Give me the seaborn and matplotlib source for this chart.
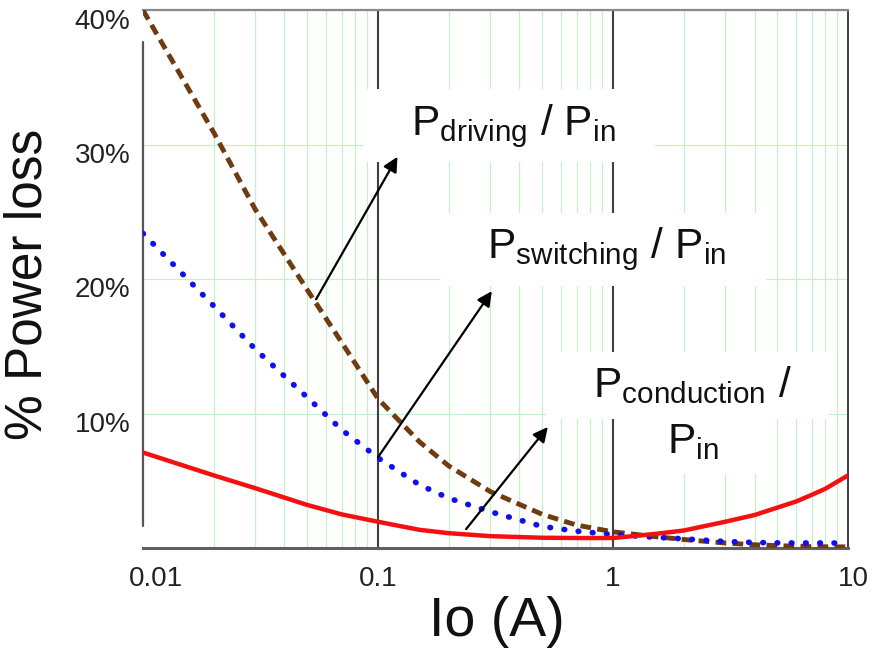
import matplotlib
matplotlib.use("Agg")
import matplotlib.pyplot as plt
import matplotlib.transforms as mtransforms
import seaborn as sns
import pandas as pd
from matplotlib.ticker import FixedLocator, LogLocator, NullFormatter

# load current (A) and loss share (% of input power)
io = [0.01, 0.02, 0.03, 0.05, 0.07, 0.1, 0.15, 0.2, 0.3, 0.5, 0.7, 1, 1.5, 2, 3, 4, 5, 6, 7, 8, 10]
p_driving = [40, 30.9, 25.2, 19.2, 15.3, 11.1, 7.9, 6.1, 4.2, 2.5, 1.7, 1.2, 0.85, 0.63, 0.37,
             0.24, 0.17, 0.13, 0.1, 0.09, 0.08]
p_switching = [23.4, 18.0, 14.8, 11.2, 8.8, 6.7, 4.7, 3.7, 2.7, 1.6, 1.25, 1.0, 0.8, 0.68, 0.48,
               0.41, 0.38, 0.37, 0.37, 0.37, 0.37]
p_conduction = [7.1, 5.4, 4.45, 3.2, 2.5, 1.95, 1.35, 1.1, 0.88, 0.76, 0.74, 0.74, 1.04, 1.3, 1.95,
                2.45, 3.0, 3.45, 3.95, 4.4, 5.4]

y_ticks = [10, 20, 30, 40]
y_tick_labels = ["10%", "20%", "30%", "40%"]
x_ticks = [0.01, 0.1, 1, 10]
x_tick_labels = ["0.01", "0.1", "1", "10"]

# text boxes (label, position) and arrows (tail, head)
box_labels = [r"$\mathregular{P_{driving}}$ / $\mathregular{P_{in}}$",
              r"$\mathregular{P_{switching}}$ / $\mathregular{P_{in}}$",
              r"$\mathregular{P_{conduction}}$ /",
              r"$\mathregular{P_{in}}$"]
box_xy = [(0.36, 31.4), (0.906, 22.2), (2.07, 12.1), (2.1, 7.9)]
arrow_tail = [(0.0545, 18.5), (0.1, 6.75), (0.237, 1.4)]
arrow_head = [(0.121, 29.1), (0.305, 19.1), (0.528, 9.0)]

df = pd.DataFrame({"Io": io, "driving": p_driving, "switching": p_switching,
                   "conduction": p_conduction})

sns.set_theme(style="white")
plt.rcParams["font.family"] = ["Liberation Sans", "DejaVu Sans"]
plt.rcParams["mathtext.fontset"] = "custom"
plt.rcParams["mathtext.rm"] = "Liberation Sans"

fig = plt.figure(figsize=(8.72, 6.55), dpi=100)
ax = fig.add_axes([0.164, 0.1634, 0.8085, 0.821])

sns.lineplot(data=df, x="Io", y="driving", ax=ax, color="#6e3c10", lw=3.5,
             linestyle=(0, (2.2, 1.3)), zorder=3)
sns.lineplot(data=df, x="Io", y="switching", ax=ax, color="#1010ee", lw=4.1,
             linestyle=(0, (0.1, 2.4)), dash_capstyle="round", zorder=3)
sns.lineplot(data=df, x="Io", y="conduction", ax=ax, color="#f41010", lw=3.2,
             zorder=3)

ax.set_xscale("log")
ax.set_xlim(0.01, 10)
ax.set_ylim(0, 40)

ax.xaxis.set_major_locator(FixedLocator(x_ticks))
ax.set_xticklabels(x_tick_labels)
ax.xaxis.set_minor_locator(LogLocator(base=10, subs=range(2, 10)))
ax.xaxis.set_minor_formatter(NullFormatter())
ax.set_yticks(y_ticks)
ax.set_yticklabels(y_tick_labels)
ax.tick_params(axis="both", length=0, labelsize=20, colors="#222222")
ax.tick_params(axis="x", pad=13)
ax.tick_params(axis="y", pad=9)
shift = mtransforms.ScaledTranslation(0, -6 / 72, fig.dpi_scale_trans)
for lab in ax.get_yticklabels():
    lab.set_transform(lab.get_transform() + shift)
xlabs = ax.get_xticklabels()
xlabs[0].set_transform(xlabs[0].get_transform() +
                       mtransforms.ScaledTranslation(9 / 72, 0, fig.dpi_scale_trans))
xlabs[-1].set_transform(xlabs[-1].get_transform() +
                        mtransforms.ScaledTranslation(4 / 72, 0, fig.dpi_scale_trans))

# grid: light green minor/horizontal, dark major verticals
ax.set_axisbelow(True)
ax.grid(False)
ax.xaxis.grid(True, which="minor", color="#c8f0c8", lw=0.9)
ax.yaxis.grid(True, which="major", color="#c8f0c8", lw=0.9)
for xv in [0.1, 1]:
    ax.axvline(xv, color="#404040", lw=1.5, zorder=1)

for side in ["top", "right", "bottom"]:
    ax.spines[side].set_visible(True)
ax.spines["top"].set_color("#8a8a8a")
ax.spines["top"].set_linewidth(1.6)
ax.spines["right"].set_color("#404040")
ax.spines["right"].set_linewidth(1.4)
ax.spines["bottom"].set_color("#606060")
ax.spines["bottom"].set_linewidth(2.2)
ax.spines["left"].set_visible(False)
ax.axvline(0.01, ymin=0.04, ymax=0.94, color="#555555", lw=1.6, clip_on=False, zorder=1)

ax.set_xlabel("Io (A)", fontsize=40, color="#111111")
ax.set_ylabel("% Power loss", fontsize=37, color="#111111")
ax.xaxis.set_label_coords(0.502, -0.09)
ax.yaxis.set_label_coords(-0.128, 0.49)

for lab, xy in zip(box_labels, box_xy):
    ax.text(xy[0], xy[1], "   " + lab + "   ", fontsize=30.5, ha="center", va="center",
            color="#111111", zorder=4,
            bbox=dict(facecolor="white", edgecolor="none", boxstyle="square,pad=0.3"))
for tail, head in zip(arrow_tail, arrow_head):
    ax.annotate("", xy=head, xytext=tail, zorder=5,
                arrowprops=dict(arrowstyle="-|>", color="black", lw=1.6,
                                mutation_scale=22, shrinkA=0, shrinkB=0))

fig.savefig("out.png", dpi=100)
